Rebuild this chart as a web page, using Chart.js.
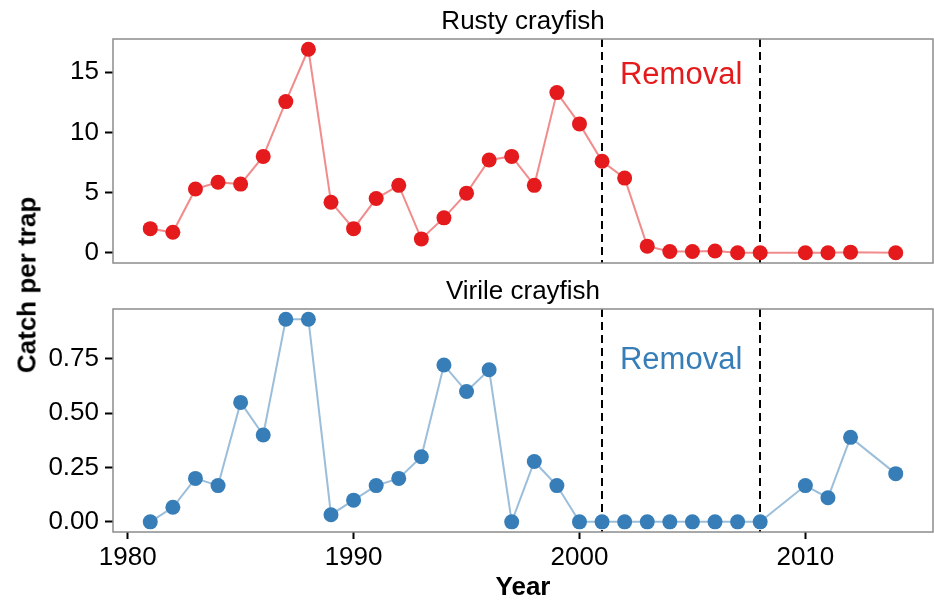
<!DOCTYPE html>
<html>
<head>
<meta charset="utf-8">
<script src="https://cdn.jsdelivr.net/npm/chart.js@4"></script>
<style>
  body { margin: 0; background: #fff; }
  #wrap { position: relative; width: 934px; height: 603px; font-family: "Liberation Sans", Arial, sans-serif; }
  #topChart { position: absolute; left: 0; top: 0; }
  #bottomChart { position: absolute; left: 0; top: 270px; }
  #yTitle {
    position: absolute; left: 27px; top: 285px;
    transform: translate(-50%, -50%) rotate(-90deg);
    font-weight: bold; font-size: 26px; color: #000; white-space: nowrap;
  }
</style>
</head>
<body>
<div id="wrap">
  <canvas id="topChart" width="934" height="270"></canvas>
  <canvas id="bottomChart" width="934" height="333"></canvas>
  <div id="yTitle">Catch per trap</div>
</div>
<script>
// data
const years = [1981, 1982, 1983, 1984, 1985, 1986, 1987, 1988, 1989, 1990, 1991, 1992, 1993, 1994, 1995, 1996, 1997,
               1998, 1999, 2000, 2001, 2002, 2003, 2004, 2005, 2006, 2007, 2008, 2010, 2011, 2012, 2014];
const rustyCatch = [2.0, 1.7, 5.3, 5.85, 5.7, 8.0, 12.55, 16.9, 4.2, 2.0, 4.5, 5.6, 1.15, 2.9, 4.95, 7.7, 8.0,
                    5.6, 13.3, 10.7, 7.6, 6.2, 0.55, 0.1, 0.1, 0.15, 0.0, 0.0, 0.0, 0.0, 0.05, 0.0];
const virileCatch = [0.0, 0.067, 0.2, 0.167, 0.55, 0.4, 0.933, 0.933, 0.033, 0.1, 0.167, 0.2, 0.3, 0.722, 0.6, 0.7, 0.0,
                     0.278, 0.167, 0.0, 0.0, 0.0, 0.0, 0.0, 0.0, 0.0, 0.0, 0.0, 0.167, 0.111, 0.389, 0.222];
const removalYears = [2001, 2008];
const xTicks = [1980, 1990, 2000, 2010];
const rustyTicks = [0, 5, 10, 15];
const virileTicks = [0, 0.25, 0.5, 0.75];

const FONT = '"Liberation Sans", Arial, sans-serif';
const xMin = 1979.35, xMax = 2015.65;

function toPoints(vals) {
    return years.map((y, i) => ({ x: y, y: vals[i] }));
}

// panel border, strip title, dashed removal lines and label
const panelPlugin = {
    id: 'panel',
    beforeDatasetsDraw(chart, args, opts) {
        const { ctx, chartArea: a, scales } = chart;
        ctx.save();
        ctx.strokeStyle = '#000';
        ctx.lineWidth = 2;
        ctx.setLineDash([8, 5]);
        removalYears.forEach(yr => {
            const px = Math.round(scales.x.getPixelForValue(yr));
            ctx.beginPath();
            ctx.moveTo(px, a.top);
            ctx.lineTo(px, a.bottom);
            ctx.stroke();
        });
        ctx.restore();
    },
    afterDraw(chart, args, opts) {
        const { ctx, chartArea: a, scales } = chart;
        ctx.save();
        ctx.strokeStyle = '#8c8c8c';
        ctx.lineWidth = 1.5;
        ctx.strokeRect(a.left, a.top, a.right - a.left, a.bottom - a.top);

        ctx.fillStyle = '#000';
        ctx.font = '26px ' + FONT;
        ctx.textAlign = 'center';
        ctx.textBaseline = 'middle';
        ctx.fillText(opts.title, (a.left + a.right) / 2, a.top - 17);

        const mid = (removalYears[0] + removalYears[1]) / 2;
        ctx.fillStyle = opts.color;
        ctx.font = '31px ' + FONT;
        ctx.fillText('Removal', scales.x.getPixelForValue(mid), a.top + opts.labelOffset);
        ctx.restore();
    }
};

function makeChart(id, vals, color, lineColor, yMin, yMax, yTicks, fmt, title, labelOffset, showX) {
    return new Chart(document.getElementById(id), {
        type: 'line',
        data: {
            datasets: [{
                data: toPoints(vals),
                borderColor: lineColor,
                borderWidth: 2,
                backgroundColor: color,
                pointBackgroundColor: color,
                pointBorderWidth: 0,
                pointRadius: 7.5,
                tension: 0,
                clip: false
            }]
        },
        options: {
            responsive: false,
            animation: false,
            layout: { autoPadding: false, padding: { top: 39, right: 1, left: 0, bottom: showX ? 0 : 7 } },
            plugins: {
                legend: { display: false },
                tooltip: { enabled: false },
                panel: { title: title, color: color, labelOffset: labelOffset }
            },
            scales: {
                x: {
                    type: 'linear',
                    min: xMin, max: xMax,
                    display: showX,
                    afterBuildTicks: s => { s.ticks = xTicks.map(v => ({ value: v })); },
                    grid: { drawOnChartArea: false, drawTicks: true, tickLength: 7, tickWidth: 2, tickColor: '#000' },
                    border: { display: false },
                    ticks: { color: '#000', font: { family: FONT, size: 26 }, padding: 3, maxRotation: 0,
                             callback: v => String(v) },
                    title: { display: true, text: 'Year', color: '#000',
                             font: { family: FONT, size: 26, weight: 'bold' }, padding: { top: 0, bottom: 0 } },
                    afterFit: s => {
                        s.height = showX ? 71 : 0;
                        s.paddingLeft = 0; s.paddingRight = 0;
                    }
                },
                y: {
                    min: yMin, max: yMax,
                    afterBuildTicks: s => { s.ticks = yTicks.map(v => ({ value: v })); },
                    grid: { drawOnChartArea: false, drawTicks: true, tickLength: 8, tickWidth: 2, tickColor: '#000' },
                    border: { display: false },
                    ticks: { color: '#000', font: { family: FONT, size: 26 }, padding: 6, callback: fmt },
                    afterFit: s => {
                        s.width = 113;
                        s.paddingTop = 0; s.paddingBottom = 0;
                    }
                }
            }
        },
        plugins: [panelPlugin]
    });
}

makeChart('topChart', rustyCatch, '#E41A1C', 'rgba(228,26,28,0.5)', -0.85, 17.75, rustyTicks,
          v => String(v), 'Rusty crayfish', 36, false);
makeChart('bottomChart', virileCatch, '#377EB8', 'rgba(55,126,184,0.5)', -0.0467, 0.98, virileTicks,
          v => v.toFixed(2), 'Virile crayfish', 51, true);
</script>
</body>
</html>
